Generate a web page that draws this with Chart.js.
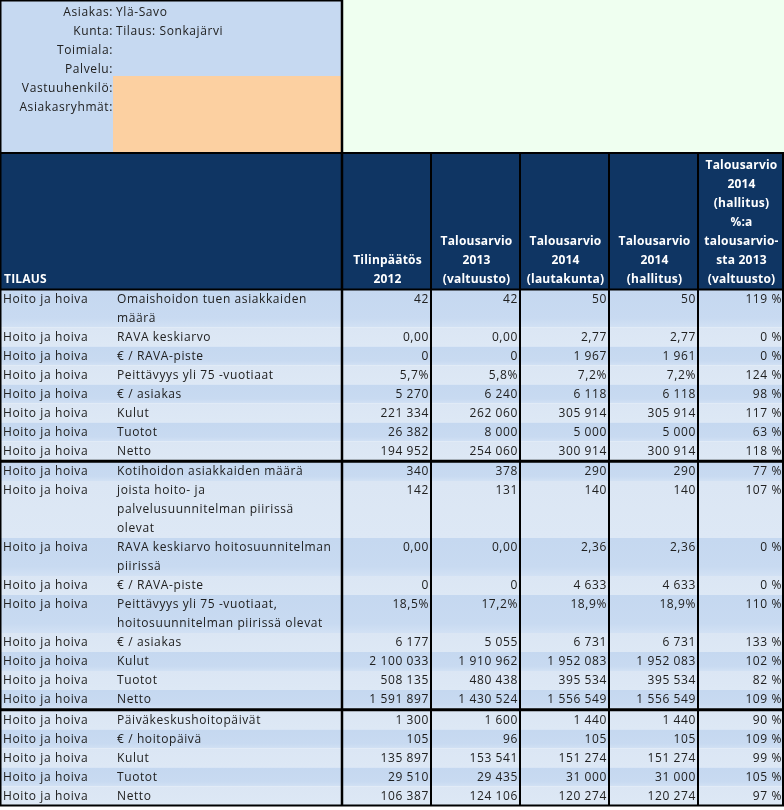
<!DOCTYPE html>
<html>
<head>
<meta charset="utf-8">
<script src="https://cdn.jsdelivr.net/npm/chart.js@4/dist/chart.umd.min.js"></script>
<style>
  html, body { margin: 0; padding: 0; background: #ffffff; }
  #wrap { width: 784px; height: 810px; }
</style>
</head>
<body>
<div id="wrap"><canvas id="myChart" width="784" height="810"></canvas></div>
<script>
// info block at the top
const infoLabels = ['Asiakas:', 'Kunta:', 'Toimiala:', 'Palvelu:', 'Vastuuhenkilö:', 'Asiakasryhmät:'];
const infoValues = ['Ylä-Savo', 'Tilaus: Sonkajärvi', '', '', '', ''];

// column headers
const firstHeader = 'TILAUS';
const columnHeaders = [
    'Tilinpäätös\n2012',
    'Talousarvio\n2013\n(valtuusto)',
    'Talousarvio\n2014\n(lautakunta)',
    'Talousarvio\n2014\n(hallitus)',
    'Talousarvio\n2014\n(hallitus)\n%:a\ntalousarvio-\nsta 2013\n(valtuusto)'
];

// rows
const groupSizes = [8, 9, 5];
const categories = Array(22).fill('Hoito ja hoiva');
const measures = [
    'Omaishoidon tuen asiakkaiden\nmäärä',
    'RAVA keskiarvo',
    '€ / RAVA-piste',
    'Peittävyys yli 75 -vuotiaat',
    '€ / asiakas',
    'Kulut',
    'Tuotot',
    'Netto',
    'Kotihoidon asiakkaiden määrä',
    'joista hoito- ja\npalvelusuunnitelman piirissä\nolevat',
    'RAVA keskiarvo hoitosuunnitelman\npiirissä',
    '€ / RAVA-piste',
    'Peittävyys yli 75 -vuotiaat,\nhoitosuunnitelman piirissä olevat',
    '€ / asiakas',
    'Kulut',
    'Tuotot',
    'Netto',
    'Päiväkeskushoitopäivät',
    '€ / hoitopäivä',
    'Kulut',
    'Tuotot',
    'Netto'
];
const rowFormats = ['int', 'dec2', 'int', 'pct1', 'int', 'int', 'int', 'int',
    'int', 'int', 'dec2', 'int', 'pct1', 'int', 'int', 'int', 'int',
    'int', 'int', 'int', 'int', 'int'];

const tilinpaatos2012 = [42, 0, 0, 5.7, 5270, 221334, 26382, 194952,
    340, 142, 0, 0, 18.5, 6177, 2100033, 508135, 1591897,
    1300, 105, 135897, 29510, 106387];
const talousarvio2013 = [42, 0, 0, 5.8, 6240, 262060, 8000, 254060,
    378, 131, 0, 0, 17.2, 5055, 1910962, 480438, 1430524,
    1600, 96, 153541, 29435, 124106];
const lautakunta2014 = [50, 2.77, 1967, 7.2, 6118, 305914, 5000, 300914,
    290, 140, 2.36, 4633, 18.9, 6731, 1952083, 395534, 1556549,
    1440, 105, 151274, 31000, 120274];
const hallitus2014 = [50, 2.77, 1961, 7.2, 6118, 305914, 5000, 300914,
    290, 140, 2.36, 4633, 18.9, 6731, 1952083, 395534, 1556549,
    1440, 105, 151274, 31000, 120274];
const muutosPct = [119, 0, 0, 124, 98, 117, 63, 118,
    77, 107, 0, 0, 110, 133, 102, 82, 109,
    90, 109, 99, 105, 97];

// formatting helpers
function thousands(v) {
    return Math.round(v).toString().replace(/\B(?=(\d{3})+(?!\d))/g, ' ');
}

function formatValue(v, kind) {
    switch (kind) {
        case 'dec2':
            return v.toFixed(2).replace('.', ',');
        case 'pct1':
            return v.toFixed(1).replace('.', ',') + '%';
        default:
            return thousands(v);
    }
}

// layout
const colEdges = [0, 113, 342, 431, 520, 609, 698, 783];
const infoBottom = 153;
const orangeTop = 76;
const headerBottom = 289.5;
const lineH = 19;
const groupGap = 1.5;

const FONT = '"Open Sans", "DejaVu Sans", sans-serif';
const textColor = '#202020';

// the table is drawn by this plugin, positions through the chart scales
const tablePlugin = {
    id: 'tablePlugin',
    afterDraw(chart) {
        const c = chart.ctx;
        const sx = chart.scales.x;
        const sy = chart.scales.y;
        const X = v => sx.getPixelForValue(v);
        const Y = v => sy.getPixelForValue(v);
        const rect = (x0, y0, x1, y1, color) => {
            c.fillStyle = color;
            c.fillRect(X(x0), Y(y0), X(x1) - X(x0), Y(y1) - Y(y0));
        };

        c.save();
        c.letterSpacing = '0.6px';

        // info block
        rect(0, 0, colEdges[2], infoBottom, '#c6d9f1');
        rect(colEdges[1], orangeTop, colEdges[2], infoBottom, '#fcd0a1');
        rect(colEdges[2], 0, 784, infoBottom, '#effff0');
        c.font = '12px ' + FONT;
        c.fillStyle = textColor;
        c.textBaseline = 'middle';
        infoLabels.forEach((label, i) => {
            c.textAlign = 'right';
            c.fillText(label, X(colEdges[1]), Y(12.5 + i * 19));
            c.textAlign = 'left';
            c.fillText(infoValues[i], X(colEdges[1] + 3), Y(12.5 + i * 19));
        });

        // header
        rect(0, infoBottom, colEdges[7], headerBottom, '#0f3563');
        c.letterSpacing = '0.2px';
        c.fillStyle = '#ffffff';
        c.font = 'bold 12px ' + FONT;
        c.textAlign = 'left';
        c.fillText(firstHeader, X(4), Y(280));
        c.textAlign = 'center';
        columnHeaders.forEach((h, i) => {
            const lines = h.split('\n');
            const cx = (colEdges[i + 2] + colEdges[i + 3]) / 2;
            lines.forEach((ln, j) => {
                c.fillText(ln, X(cx + 1), Y(280 - (lines.length - 1 - j) * 19));
            });
        });

        // rows
        c.letterSpacing = '0.6px';
        const valueCols = [tilinpaatos2012, talousarvio2013, lautakunta2014, hallitus2014];
        const groupLines = [];
        let y = headerBottom;
        let r = 0;
        groupSizes.forEach((size, g) => {
            for (let k = 0; k < size; k++, r++) {
                const lines = measures[r].split('\n');
                const h = lines.length * lineH;
                const dark = r % 2 === 0;
                const grad = c.createLinearGradient(0, Y(y), 0, Y(y + h));
                if (dark) {
                    grad.addColorStop(0, '#c5d8f0');
                    grad.addColorStop(0.75, '#c8daf1');
                    grad.addColorStop(1, '#d2e1f4');
                } else {
                    grad.addColorStop(0, '#dbe6f4');
                    grad.addColorStop(1, '#dde8f5');
                }
                c.fillStyle = grad;
                c.fillRect(X(0), Y(y), X(colEdges[7]) - X(0), Y(y + h) - Y(y));

                c.font = '12px ' + FONT;
                c.fillStyle = textColor;
                c.textAlign = 'left';
                const ty = y + lineH / 2 + 0.5;
                c.fillText(categories[r], X(3), Y(ty));
                lines.forEach((ln, j) => c.fillText(ln, X(colEdges[1] + 4), Y(ty + j * lineH)));

                c.textAlign = 'right';
                valueCols.forEach((arr, i) => {
                    c.fillText(formatValue(arr[r], rowFormats[r]), X(colEdges[i + 3] - 2), Y(ty));
                });
                c.fillText(muutosPct[r] + ' %', X(colEdges[7] - 1), Y(ty));
                y += h;
            }
            groupLines.push(y);
            if (g < groupSizes.length - 1) y += groupGap;
        });

        // grid lines
        c.fillStyle = '#000000';
        const hline = (yy, w, x0, x1) => c.fillRect(X(x0), Y(yy) - w / 2, X(x1) - X(x0), w);
        const vline = (xx, w, y0, y1) => c.fillRect(X(xx) - w / 2, Y(y0), w, Y(y1) - Y(y0));
        hline(0.75, 1.5, 0, colEdges[2]);
        hline(infoBottom, 2, 0, colEdges[7] + 1);
        hline(headerBottom, 2, 0, colEdges[7] + 1);
        groupLines.forEach((gy, i) => {
            const w = i < groupLines.length - 1 ? 3 : 2;
            hline(gy + (i < groupLines.length - 1 ? groupGap / 2 : 0), w, 0, colEdges[7] + 1);
        });
        const bottom = groupLines[groupLines.length - 1];
        vline(0.75, 1.5, 0, bottom);
        vline(colEdges[2], 2.5, 0, bottom);
        for (let i = 3; i < colEdges.length; i++) {
            vline(colEdges[i], 2, infoBottom, bottom);
        }
        c.restore();
    }
};

let ctx = document.getElementById('myChart').getContext('2d');
let myChart = new Chart(ctx, {
    type: 'scatter',
    data: { datasets: [] },
    options: {
        responsive: false,
        animation: false,
        events: [],
        layout: { padding: 0 },
        plugins: {
            legend: { display: false },
            tooltip: { enabled: false }
        },
        scales: {
            x: { type: 'linear', min: 0, max: 784, display: false },
            y: { type: 'linear', min: 0, max: 810, reverse: true, display: false }
        }
    },
    plugins: [tablePlugin]
});
</script>
</body>
</html>
